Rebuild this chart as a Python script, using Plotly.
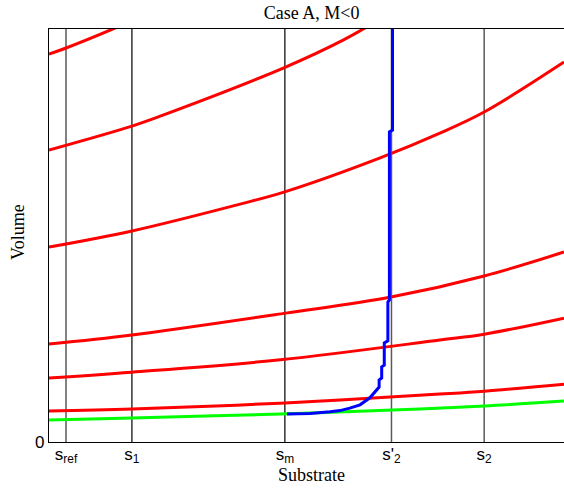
import plotly.graph_objects as go

# Tick positions (substrate axis) and labels
tick_pos = [0.33, 1.61, 4.58, 6.65, 8.45]
tick_text = ["s<sub>ref</sub>", "s<sub>1</sub>", "s<sub>m</sub>", "s'<sub>2</sub>", "s<sub>2</sub>"]
tick_colors = ["#5a5a5a", "#000000", "#000000", "#5a5a5a", "#5a5a5a"]

# Red volume curves (x, y)
red1_x = [0.0, 0.33, 1.20, 1.60]
red1_y = [9.39, 9.54, 9.98, 10.2]
red2_x = [0.0, 1.61, 2.16, 4.56, 5.71, 6.40]
red2_y = [7.07, 7.65, 7.89, 9.06, 9.73, 10.22]
red3_x = [0.0, 1.61, 3.71, 4.56, 6.43, 7.59, 8.45, 10.0]
red3_y = [4.72, 5.11, 5.76, 6.05, 6.88, 7.48, 7.99, 9.20]
red4_x = [0.0, 1.61, 4.60, 6.64, 8.45, 10.0]
red4_y = [2.37, 2.59, 3.12, 3.51, 4.02, 4.60]
red5_x = [0.0, 1.61, 4.49, 7.59, 8.45, 10.0]
red5_y = [1.55, 1.69, 1.99, 2.47, 2.61, 3.00]
red6_x = [0.0, 1.61, 4.49, 7.59, 8.45, 10.0]
red6_y = [0.75, 0.80, 0.94, 1.16, 1.23, 1.40]

# Green curve
green_x = [0.0, 1.61, 4.49, 7.20, 8.45, 10.0]
green_y = [0.53, 0.58, 0.68, 0.80, 0.87, 0.99]

# Blue trajectory
blue_x = [4.62, 5.07, 5.46, 5.65, 5.84, 6.04, 6.23, 6.33, 6.41, 6.41, 6.46, 6.46,
          6.51, 6.51, 6.58, 6.58, 6.61, 6.61, 6.67, 6.67]
blue_y = [0.68, 0.69, 0.73, 0.76, 0.82, 0.90, 1.07, 1.21, 1.33, 1.50, 1.55, 1.82,
          1.86, 2.40, 2.45, 3.39, 3.44, 7.51, 7.55, 10.5]

fig = go.Figure()

# vertical reference lines
for xp, c in zip(tick_pos, tick_colors):
    fig.add_trace(go.Scatter(x=[xp, xp], y=[0, 10], mode="lines",
                             line=dict(color=c, width=1.5 if c != "#000000" else 1.2),
                             hoverinfo="skip", showlegend=False))

for xs, ys in [(red1_x, red1_y), (red2_x, red2_y), (red3_x, red3_y),
               (red4_x, red4_y), (red5_x, red5_y), (red6_x, red6_y)]:
    fig.add_trace(go.Scatter(x=xs, y=ys, mode="lines", line=dict(color="#ff0000", width=3, shape="spline"),
                             showlegend=False))

fig.add_trace(go.Scatter(x=green_x, y=green_y, mode="lines",
                         line=dict(color="#00ff00", width=3, shape="spline"), showlegend=False))
fig.add_trace(go.Scatter(x=blue_x, y=blue_y, mode="lines",
                         line=dict(color="#0000ff", width=3), showlegend=False))

fig.update_layout(
    width=564, height=488,
    margin=dict(l=49, r=0, t=29, b=46),
    paper_bgcolor="white", plot_bgcolor="white",
    showlegend=False,
    title=dict(text="Case A, M<0", x=0.51, xref="paper", y=1 - 13 / 488, yref="container",
               xanchor="center", yanchor="middle",
               font=dict(family="Liberation Serif", size=18, color="black")),
    xaxis=dict(range=[0, 10], showgrid=False, zeroline=False,
               showline=True, linecolor="black", linewidth=1.3, mirror=True,
               tickmode="array", tickvals=tick_pos, ticktext=tick_text,
               ticks="", ticklabelstandoff=-4,
               tickfont=dict(family="Liberation Sans", size=17, color="black")),
    yaxis=dict(range=[0, 10], showgrid=False, zeroline=False,
               showline=True, linecolor="black", linewidth=1.3, mirror=False,
               tickmode="array", tickvals=[0], ticktext=["0"], ticks="",
               tickfont=dict(family="Liberation Sans", size=17, color="black")),
    annotations=[
        dict(text="Substrate", xref="paper", x=0.51, yref="paper", y=-33 / 413,
             xanchor="center", yanchor="middle", showarrow=False,
             font=dict(family="Liberation Serif", size=18, color="black")),
        dict(text="Volume", xref="paper", x=-31 / 515, yref="paper", y=(442 - 232) / 413,
             xanchor="center", yanchor="middle", textangle=-90, showarrow=False,
             font=dict(family="Liberation Serif", size=18, color="black")),
    ],
)

fig.write_html("out.html", config={"displayModeBar": False},
               post_script="document.body.style.margin='0';")
